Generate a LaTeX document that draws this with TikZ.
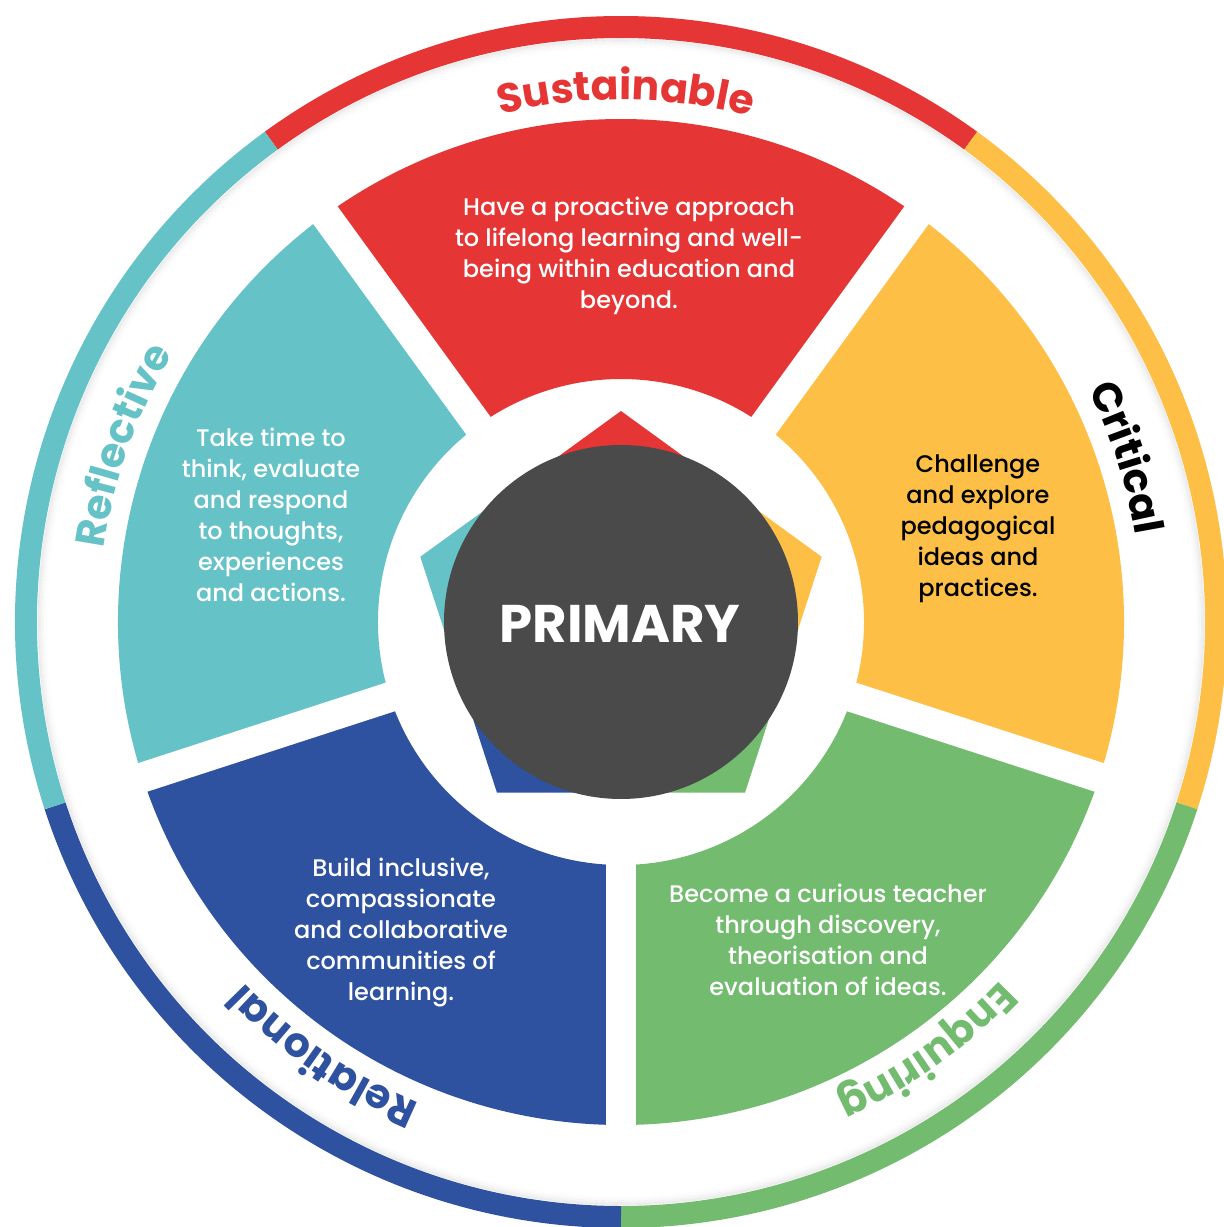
\documentclass[tikz,border=0pt]{standalone}
\usepackage{fontspec}
\usetikzlibrary{decorations.text}
\setmainfont{Poppins}
\newfontfamily\popp{Poppins}
\IfFontExistsTF{Poppins Medium}{\newfontfamily\bodyfont{Poppins Medium}}{\newfontfamily\bodyfont{Poppins}}
\newcommand\labS{\popp\bfseries\fontsize{41}{50}\selectfont}
\newcommand\primfont{\popp\bfseries\fontsize{53}{60}\selectfont}
\definecolor{cred}{HTML}{E63535}
\definecolor{cyel}{HTML}{FDBF45}
\definecolor{cgrn}{HTML}{72BB6F}
\definecolor{cblu}{HTML}{2E52A0}
\definecolor{cteal}{HTML}{65C2C7}
\definecolor{cdark}{HTML}{4A4A4A}
\begin{document}
\begin{tikzpicture}[x=1pt,y=1pt,
  body/.style={align=center, inner sep=0pt, font=\bodyfont\fontsize{24}{31}\selectfont},
  ringseg/.style={line width=22pt},
  gapline/.style={white, line width=30pt},
  lab/.style={decorate, decoration={text along path, text align=center, text={#1}}}]
\useasboundingbox (-621,-605) rectangle (603,622);
\clip (-621,-605) rectangle (603,622);
\fill[white] (-621,-605) rectangle (603,622);

% inner shadow of the outer ring
\foreach \k/\o in {1/0.07,2/0.05,3/0.035,4/0.022,5/0.012,6/0.006}{
  \draw[black, opacity=\o, line width=1.6pt] (0,0) circle[radius={584pt-1.5pt*\k}];
}

% outer ring
\draw[ringseg, cred]  (54:595pt)  arc[start angle=54,  end angle=126, radius=595pt];
\draw[ringseg, cyel]  (-18:595pt) arc[start angle=-18, end angle=54,  radius=595pt];
\draw[ringseg, cgrn]  (-90:595pt) arc[start angle=-90, end angle=-18, radius=595pt];
\draw[ringseg, cblu]  (-162:595pt) arc[start angle=-162, end angle=-90, radius=595pt];
\draw[ringseg, cteal] (126:595pt) arc[start angle=126, end angle=198, radius=595pt];

% sectors
\fill[cred]  (54:503pt) arc[start angle=54, end angle=126, radius=503pt] -- (126:243pt) arc[start angle=126, end angle=54, radius=243pt] -- cycle;
\fill[cyel]  (-18:503pt) arc[start angle=-18, end angle=54, radius=503pt] -- (54:243pt) arc[start angle=54, end angle=-18, radius=243pt] -- cycle;
\fill[cgrn]  (-90:503pt) arc[start angle=-90, end angle=-18, radius=503pt] -- (-18:243pt) arc[start angle=-18, end angle=-90, radius=243pt] -- cycle;
\fill[cblu]  (-162:503pt) arc[start angle=-162, end angle=-90, radius=503pt] -- (-90:243pt) arc[start angle=-90, end angle=-162, radius=243pt] -- cycle;
\fill[cteal] (126:503pt) arc[start angle=126, end angle=198, radius=503pt] -- (198:243pt) arc[start angle=198, end angle=126, radius=243pt] -- cycle;
\foreach \a in {54,126,198,270,342}{
  \draw[gapline] (\a:230pt) -- (\a:515pt);
}

% pentagon tips
\foreach \t/\c in {90/cred,18/cyel,-54/cgrn,-126/cblu,162/cteal}{
  \fill[\c] (0,0) -- (\t-36:170.7pt) -- (\t:211pt) -- (\t+36:170.7pt) -- cycle;
}

% centre
\fill[cdark] (0,0) circle[radius=177pt];
\node[text=white, font=\primfont, inner sep=0pt] (prim) at (-1,-2) {PRIMARY};

% sector texts
\node[body, text=white] (tred) at (8,366) {Have a proactive approach\\to lifelong learning and well-\\being within education and\\beyond.};
\node[body, text=black] (tyel) at (357,93) {Challenge\\and explore\\pedagogical\\ideas and\\practices.};
\node[body, text=white] (tteal) at (-350,107) {Take time to\\think, evaluate\\and respond\\to thoughts,\\experiences\\and actions.};
\node[body, text=white] (tblu) at (-220,-311) {Build inclusive,\\compassionate\\and collaborative\\communities of\\learning.};
\node[body, text=white] (tgrn) at (207,-318) {Become a curious teacher\\through discovery,\\theorisation and\\evaluation of ideas.};

% ring labels
\path[lab={|\labS\color{cred}|Sustainable}] (125.5:522pt) arc[start angle=125.5, end angle=53.5, radius=522pt];
\path[lab={|\labS\color{black}|Critical}] (54:522pt) arc[start angle=54, end angle=-18, radius=522pt];
\path[lab={|\labS\color{cgrn}|Enquiring}] (-18.5:522pt) arc[start angle=-18.5, end angle=-90.5, radius=522pt];
\path[lab={|\labS\color{cblu}|Relational}] (-88.5:522pt) arc[start angle=-88.5, end angle=-160.5, radius=522pt];
\path[lab={|\labS\color{cteal}|Reflective}] (196.5:522pt) arc[start angle=196.5, end angle=124.5, radius=522pt];
\end{tikzpicture}
\end{document}
